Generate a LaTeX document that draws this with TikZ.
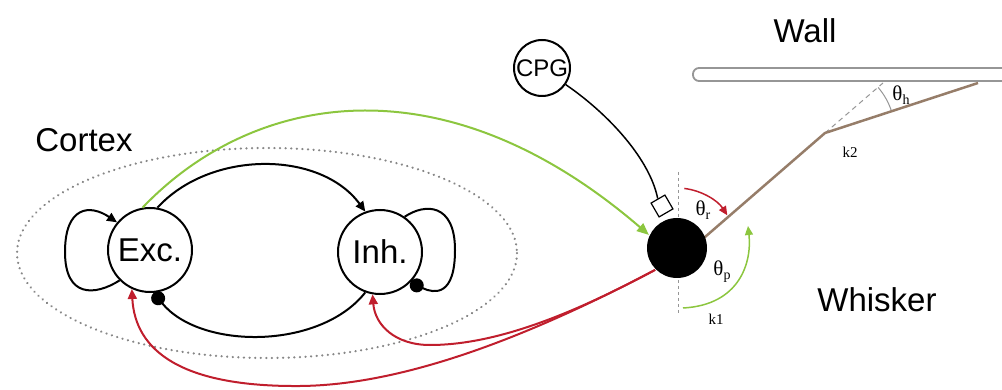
\documentclass[tikz,border=0pt]{standalone}
\usepackage{fontspec}
\setmainfont{Liberation Sans}
\newfontfamily\serifface{Liberation Serif}
\usetikzlibrary{arrows.meta,shapes.geometric}
\definecolor{myred}{RGB}{192,30,45}
\definecolor{mygreen}{RGB}{140,198,63}
\definecolor{mybrown}{RGB}{150,125,105}
\definecolor{mygray}{RGB}{150,150,150}
\newcommand{\thlabel}[2]{{\serifface\fontsize{21}{22}\selectfont θ\raisebox{-4pt}{\fontsize{14}{15}\selectfont #2}}}
\begin{document}
\begin{tikzpicture}[x=1pt,y=-1pt,line width=2pt,
  neuron/.style={circle,draw,line width=2pt,minimum size=84pt,inner sep=0pt,font=\fontsize{33}{36}\selectfont},
  bigtext/.style={font=\fontsize{33}{36}\selectfont,anchor=base,inner sep=0pt},
  smalltext/.style={font=\serifface\fontsize{15}{16}\selectfont,inner sep=0pt},
  tri/.style={-{Triangle[length=10pt,width=9pt]}},
  dotend/.style={-{Circle[length=14pt]}},
  guide/.style={mygray,line width=1pt,dash pattern=on 3pt off 3pt}]
\useasboundingbox (0,0) rectangle (1002,390);
% cortex region
\draw[mygray!90!black,line width=2.4pt,dash pattern=on 0.1pt off 5.5pt,line cap=round] (267,253) ellipse [x radius=250, y radius=105];
\node[bigtext] (cortex) at (84,152) {Cortex};
\node[bigtext] (wall) at (805,43) {Wall};
\node[bigtext] (whisk) at (877,312) {Whisker};
% wall
\draw[mygray,line width=1.8pt,fill=white,rounded corners=6pt] (693,68) rectangle (1020,81);
% neurons
\node[neuron] (E) at (150,250) {Exc.};
\node[neuron] (I) at (380,252) {Inh.};
\node[circle,draw,line width=2pt,minimum size=56pt,inner sep=0pt,font=\fontsize{24}{26}\selectfont] (cpg) at (542,68) {CPG};
% whisker
\coordinate (base) at (690,250);
\coordinate (kink) at (825,133);
\coordinate (tipw) at (978,83);
\coordinate (hx) at (883,83);
\draw[guide,dash pattern=on 5pt off 4pt] (kink) -- (hx);
\draw[mygray,line width=1pt] (kink) ++(-40.6:70) arc[start angle=-40.6,end angle=-18,radius=70];
\draw[mybrown,line width=2.5pt] (base) -- (kink) -- (tipw);
\coordinate (vtop) at (678,172);
\coordinate (vbot) at (678,313);
\draw[guide] (vtop) -- (vbot);
\node[circle,fill=black,minimum size=60pt,inner sep=0pt] (ball) at (677,248) {};
\node[draw,line width=1.2pt,minimum size=16pt,inner sep=0pt,rotate=30,fill=white] (sq) at (662,206) {};
% labels
\node[inner sep=0pt] (thr) at (703,210) {\thlabel{}{r}};
\node[inner sep=0pt] (thp) at (722,272) {\thlabel{}{p}};
\node[inner sep=0pt] (thh) at (901,95) {\thlabel{}{h}};
\node[smalltext] (k1) at (716,319) {k1};
\node[smalltext] (k2) at (850,152) {k2};
% angle arrows
\draw[myred,line width=1.5pt,-{Triangle[length=9pt,width=8pt]}] (ball.center) ++(-83:60) arc[start angle=-83,end angle=-33,radius=60];
\coordinate (pstart) at (683,308);
\coordinate (pend) at (748,226);
\draw[mygreen,line width=1.5pt,-{Triangle[length=9pt,width=8pt]}] (pstart) .. controls (740,305) and (752,262) .. (pend);
% CPG connection
\draw[line width=1.5pt] (cpg.-35) .. controls (610,115) and (650,160) .. (sq.north);
% cortex connections
\coordinate (eloop) at (65,252);
\coordinate (iloop) at (455,250);
\draw[tri] (E.225) .. controls (95,296) and (65,298) .. (eloop) .. controls (65,206) and (90,204) .. (E.140);
\draw[dotend] (I.55) .. controls (425,203) and (455,203) .. (iloop) .. controls (455,296) and (435,294) .. (I.-45);
\draw[tri] (E.80) .. controls (210,150) and (320,150) .. (I.110);
\draw[dotend] (I.250) .. controls (320,350) and (200,350) .. (E.-85);
% green feedforward
\draw[mygreen,-{Triangle[length=12pt,width=10pt]}] (E.100) .. controls (250,95) and (440,55) .. (ball.155);
% red feedback
\coordinate (r1mid) at (300,386);
\coordinate (r2mid) at (430,345);
\draw[myred,tri] (ball.225) .. controls (560,320) and (420,385) .. (r1mid) .. controls (180,387) and (135,350) .. (E.245);
\draw[myred,tri] (ball.225) .. controls (580,310) and (500,345) .. (r2mid) .. controls (395,345) and (375,325) .. (I.260);
\end{tikzpicture}
\end{document}
